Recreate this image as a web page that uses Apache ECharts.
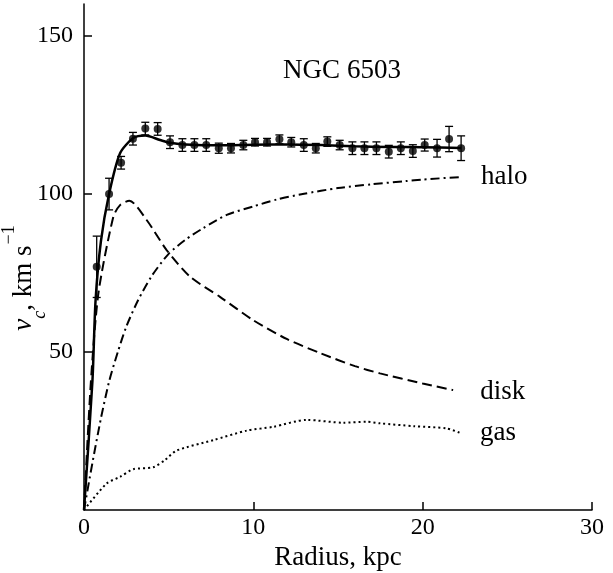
<!DOCTYPE html>
<html><head><meta charset="utf-8">
<script src="https://cdn.jsdelivr.net/npm/echarts@6/dist/echarts.min.js"></script>
<style>html,body{margin:0;padding:0;background:#fff}#c{width:613px;height:573px}</style>
</head><body><div id="c"></div>
<script>
// Observed rotation curve points
const obsR = [0.75,1.48,2.19,2.89,3.62,4.35,5.08,5.81,6.52,7.22,7.96,8.68,9.41,10.10,10.81,11.54,12.24,12.98,13.69,14.37,15.10,15.85,16.56,17.27,18.00,18.71,19.42,20.12,20.85,21.56,22.27];
const obsV = [76.9,99.9,109.8,117.4,120.6,120.5,116.3,115.4,115.4,115.4,114.4,114.4,115.4,116.3,116.3,117.2,116.3,115.4,114.4,116.5,115.4,114.4,114.4,114.4,113.3,114.4,113.5,115.4,114.4,117.3,114.4];
const obsErr = [9.7,5,2,2,2,2,2,2,2,2,1.6,1.5,1.5,1.2,1.2,1.4,1.5,2,1.5,1.5,1.5,2,2,2,2,2,2,1.9,2.8,4,3.9];
// Model fit (total)
const fitR = [0,0.5,0.68,1.0,1.48,2.13,2.91,3.62,4.49,5.08,6,8,10,12,14,16,18,20,22.27];
const fitV = [0,41,66,85,99.9,112.8,117.6,118.4,117.0,116.1,115.6,115.3,115.5,115.6,115.4,115.0,114.8,114.7,114.5];
// Halo
const haloR = [0,0.5,1.0,1.5,2,2.5,3.2,4,5,6,7,8.43,10,11.4,13,15,17,19,20,22.27];
const haloV = [0,15,29,41,50,58,66.4,74,81,85.5,89,93.3,96,98.2,100,101.8,103,104,104.5,105.3];
// Disk
const diskR = [0,0.4,0.85,1.73,2.13,2.68,3.70,4.88,6.26,8.03,10,12,14,16,17.48,20,21.8];
const diskV = [0,40,68.5,92.7,96.4,97.8,91.7,82.2,73.8,67.4,60,54,49.5,45.5,43.2,40,37.9];
// Gas
const gasR = [0,1.34,2.13,2.91,4.09,4.78,5.47,7.64,9.61,11.18,13.15,15.32,16.7,17.48,19.5,21.42,22.2];
const gasV = [0,8.4,10.5,12.9,13.5,15.8,18.8,22.1,25.1,26.3,28.5,27.6,27.9,27.4,26.5,25.8,24.4];
const xTicks = [0,10,20,30];
const yTicks = [50,100,150];

const zip = (a,b) => a.map((v,i)=>[v,b[i]]);
const F = 'Liberation Serif';
const chart = echarts.init(document.getElementById('c'));
const lineBase = (name, r, v, type, width, lbl, dist, off) => ({
  type:'line', name, data: zip(r,v), showSymbol:false, smooth:0.25,
  lineStyle:{color:'#000', width, type}, silent:true, z:3,
  endLabel: lbl ? {show:true, formatter: lbl, color:'#000', fontFamily:F, fontSize:27, distance:dist, offset:off} : undefined
});
chart.setOption({
  animation:false,
  grid:{left:84,right:21,top:4,bottom:63,containLabel:false,outerBoundsMode:'none'},
  graphic:[
    {type:'text', x:342, y:71, style:{text:'NGC 6503', fontFamily:F, fontSize:27, fill:'#000', textAlign:'center', textVerticalAlign:'middle'}},
    {type:'text', x:24, y:278, rotation:Math.PI/2,
      style:{text:'{i|v}{s|c}{n|, km s}{p|−1}', fill:'#000', textAlign:'center', textVerticalAlign:'middle',
        rich:{i:{fontFamily:F,fontStyle:'italic',fontSize:27,fill:'#000',verticalAlign:'bottom'},
              s:{fontFamily:F,fontStyle:'italic',fontSize:18,fill:'#000',verticalAlign:'bottom',padding:[0,0,-12,0]},
              n:{fontFamily:F,fontSize:27,fill:'#000',verticalAlign:'bottom'},
              p:{fontFamily:F,fontSize:18,fill:'#000',verticalAlign:'top',padding:[-10,0,0,1]}}}}
  ],
  xAxis:{type:'value',min:0,max:30,interval:10,
    name:'Radius, kpc', nameLocation:'middle', nameGap:34,
    nameTextStyle:{fontFamily:F,fontSize:27,color:'#000'},
    axisLine:{lineStyle:{color:'#000',width:1.5}},
    axisTick:{inside:true,length:8,lineStyle:{color:'#000',width:1.5},customValues:[10,20,30]},
    axisLabel:{fontFamily:F,fontSize:24,color:'#000',margin:6,customValues:xTicks},
    splitLine:{show:false}},
  yAxis:{type:'value',min:0,max:160,interval:50,
    axisLine:{lineStyle:{color:'#000',width:1.5}},
    axisTick:{inside:true,length:8,lineStyle:{color:'#000',width:1.5},customValues:yTicks},
    axisLabel:{fontFamily:F,fontSize:24,color:'#000',margin:11,customValues:yTicks},
    splitLine:{show:false}},
  series:[
    lineBase('fit', fitR, fitV, 'solid', 2.5, null),
    lineBase('halo', haloR, haloV, [9,4,2,4], 2, 'halo', 20, [0,0]),
    lineBase('disk', diskR, diskV, [10,5], 2, 'disk', 27, [0,2]),
    lineBase('gas', gasR, gasV, [2,3], 2, 'gas', 20, [0,0]),
    {type:'custom', name:'err', z:4, silent:true,
      data: obsR.map((r,i)=>[r, obsV[i]-obsErr[i], obsV[i]+obsErr[i]]),
      renderItem:(params, api)=>{
        const lo = api.coord([api.value(0), api.value(1)]);
        const hi = api.coord([api.value(0), api.value(2)]);
        const w = 4;
        const st = {stroke:'#000', lineWidth:1.3};
        return {type:'group', children:[
          {type:'line', shape:{x1:lo[0],y1:lo[1],x2:hi[0],y2:hi[1]}, style:st},
          {type:'line', shape:{x1:lo[0]-w,y1:lo[1],x2:lo[0]+w,y2:lo[1]}, style:st},
          {type:'line', shape:{x1:hi[0]-w,y1:hi[1],x2:hi[0]+w,y2:hi[1]}, style:st}
        ]};
      }},
    {type:'scatter', name:'obs', data: zip(obsR, obsV), symbol:'circle', symbolSize:8,
      itemStyle:{color:'#000'}, z:5, silent:true}
  ]
});
</script></body></html>
